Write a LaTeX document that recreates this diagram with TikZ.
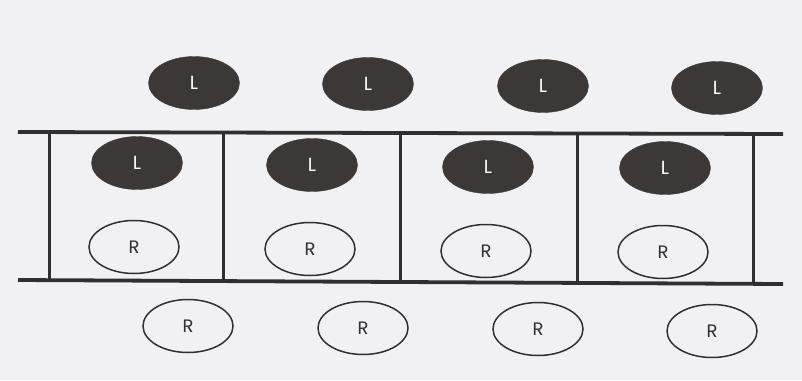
\documentclass[tikz,border=0pt]{standalone}
\usepackage{fontspec}
\setmainfont{Poppins}
\usetikzlibrary{shapes.geometric}
\definecolor{bg}{HTML}{F1F1F4}
\definecolor{ink}{HTML}{302E2E}
\definecolor{lfill}{HTML}{3C3838}
\tikzset{
  ligand/.style={ellipse, fill=lfill, draw=lfill, minimum width=91pt, minimum height=53pt, inner sep=0pt, text=white, font=\fontsize{19}{19}\selectfont},
  receptor/.style={ellipse, draw=ink, line width=1.5pt, fill=none, minimum width=90pt, minimum height=53pt, inner sep=0pt, text=ink, font=\fontsize{18}{18}\selectfont},
  membrane/.style={draw=ink, line width=3.8pt},
  wall/.style={draw=ink, line width=3pt}
}
\begin{document}
\begin{tikzpicture}[x=1pt, y=-1pt]
\fill[bg] (0,0) rectangle (802,380);
\useasboundingbox (0,0) rectangle (802,380);
% membrane lines
\coordinate (tl) at (18,132);
\coordinate (tr) at (783,134);
\coordinate (bl) at (18,280);
\coordinate (br) at (783,284);
\draw[membrane] (tl) -- (tr);
\draw[membrane] (bl) -- (br);
% walls
\foreach \n/\x/\ya/\yb in {w1/49/132/281, w2/223/133/282, w3/400/133/282, w4/577/134/283, w5/753/134/284}{
  \coordinate (\n a) at (\x,\ya);
  \coordinate (\n b) at (\x,\yb);
  \draw[wall] (\n a) -- (\n b);
}
% free ligands
\node[ligand] (L1) at (194,83) {L};
\node[ligand] (L2) at (368,84) {L};
\node[ligand] (L3) at (543,86) {L};
\node[ligand] (L4) at (717,88) {L};
% bound ligands
\node[ligand] (L5) at (137,163) {L};
\node[ligand] (L6) at (312,165) {L};
\node[ligand] (L7) at (488,167) {L};
\node[ligand] (L8) at (665,168) {L};
% receptors inside
\node[receptor] (R1) at (134,247) {R};
\node[receptor] (R2) at (310,249) {R};
\node[receptor] (R3) at (486,251) {R};
\node[receptor] (R4) at (663,252) {R};
% receptors below
\node[receptor] (R5) at (188,326) {R};
\node[receptor] (R6) at (363,328) {R};
\node[receptor] (R7) at (538,329) {R};
\node[receptor] (R8) at (712,331) {R};
\end{tikzpicture}
\end{document}
